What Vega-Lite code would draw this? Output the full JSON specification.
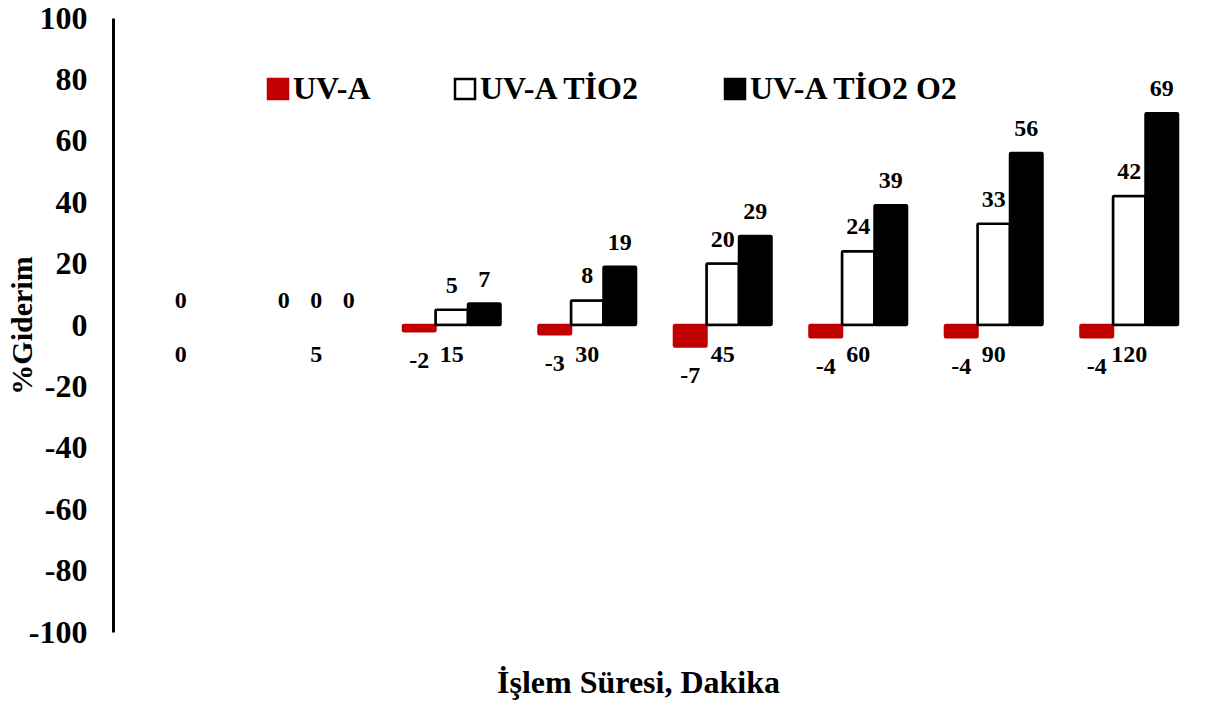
{
  "$schema": "https://vega.github.io/schema/vega-lite/v6.json",
  "width": 1084,
  "height": 614,
  "autosize": {"type": "none"},
  "padding": {"left": 113, "top": 18, "right": 24, "bottom": 70},
  "background": "white",
  "config": {"view": {"stroke": null}, "font": "Liberation Serif"},
  "data": {
    "values": [
      {"t": "0", "s": "UV-A", "v": null},
      {"t": "0", "s": "UV-A TİO2", "v": 0},
      {"t": "0", "s": "UV-A TİO2 O2", "v": null},
      {"t": "5", "s": "UV-A", "v": 0},
      {"t": "5", "s": "UV-A TİO2", "v": 0},
      {"t": "5", "s": "UV-A TİO2 O2", "v": 0},
      {"t": "15", "s": "UV-A", "v": -2},
      {"t": "15", "s": "UV-A TİO2", "v": 5},
      {"t": "15", "s": "UV-A TİO2 O2", "v": 7},
      {"t": "30", "s": "UV-A", "v": -3},
      {"t": "30", "s": "UV-A TİO2", "v": 8},
      {"t": "30", "s": "UV-A TİO2 O2", "v": 19},
      {"t": "45", "s": "UV-A", "v": -7},
      {"t": "45", "s": "UV-A TİO2", "v": 20},
      {"t": "45", "s": "UV-A TİO2 O2", "v": 29},
      {"t": "60", "s": "UV-A", "v": -4},
      {"t": "60", "s": "UV-A TİO2", "v": 24},
      {"t": "60", "s": "UV-A TİO2 O2", "v": 39},
      {"t": "90", "s": "UV-A", "v": -4},
      {"t": "90", "s": "UV-A TİO2", "v": 33},
      {"t": "90", "s": "UV-A TİO2 O2", "v": 56},
      {"t": "120", "s": "UV-A", "v": -4},
      {"t": "120", "s": "UV-A TİO2", "v": 42},
      {"t": "120", "s": "UV-A TİO2 O2", "v": 69}
    ]
  },
  "encoding": {
    "x": {
      "field": "t",
      "type": "nominal",
      "sort": ["0", "5", "15", "30", "45", "60", "90", "120"],
      "scale": {"paddingInner": 0.28, "paddingOuter": 0.14},
      "axis": {
        "title": "İşlem Süresi, Dakika",
        "labels": false,
        "ticks": false,
        "domain": false,
        "grid": false,
        "titleFontSize": 32,
        "titleFontWeight": "bold",
        "titleColor": "black",
        "titleY": 50,
        "titleX": 525,
        "titleBaseline": "middle"
      }
    },
    "y": {
      "field": "v",
      "type": "quantitative",
      "scale": {"domain": [-100, 100], "nice": false, "zero": false},
      "axis": {
        "title": "%Giderim",
        "values": [-100, -80, -60, -40, -20, 0, 20, 40, 60, 80, 100],
        "labelExpr": "'' + datum.value",
        "ticks": false,
        "grid": false,
        "domainWidth": 3,
        "domainColor": "black",
        "labelFontSize": 32,
        "labelFontWeight": "bold",
        "labelColor": "black",
        "labelPadding": 26,
        "titleFontSize": 30,
        "titleFontWeight": "bold",
        "titleColor": "black",
        "titleX": -91,
        "titleY": 307,
        "titleAngle": -90,
        "titleAlign": "center",
        "titleBaseline": "middle"
      }
    }
  },
  "layer": [
    {
      "transform": [{"filter": "datum.v !== 0"}],
      "mark": {"type": "bar", "strokeWidth": 2.5, "cornerRadius": 1},
      "encoding": {
        "xOffset": {
          "field": "s",
          "type": "nominal",
          "sort": ["UV-A", "UV-A TİO2", "UV-A TİO2 O2"],
          "scale": {"domain": ["UV-A", "UV-A TİO2", "UV-A TİO2 O2"], "paddingInner": 0, "paddingOuter": 0}
        },
        "fill": {
          "field": "s",
          "type": "nominal",
          "sort": ["UV-A", "UV-A TİO2", "UV-A TİO2 O2"],
          "scale": {"domain": ["UV-A", "UV-A TİO2", "UV-A TİO2 O2"], "range": ["#C00000", "#FFFFFF", "#000000"]},
          "legend": {
            "orient": "none",
            "legendX": 149,
            "legendY": 55,
            "direction": "horizontal",
            "title": null,
            "labelFontSize": 32,
            "labelFontWeight": "bold",
            "labelColor": "black",
            "labelLimit": 500,
            "symbolType": "square",
            "symbolSize": 400,
            "symbolStrokeWidth": 2.5,
            "columnPadding": 78,
            "labelOffset": -1
          }
        },
        "stroke": {
          "field": "s",
          "type": "nominal",
          "sort": ["UV-A", "UV-A TİO2", "UV-A TİO2 O2"],
          "scale": {"domain": ["UV-A", "UV-A TİO2", "UV-A TİO2 O2"], "range": ["#C00000", "#000000", "#000000"]}
        }
      }
    },
    {
      "mark": {"type": "rule", "strokeWidth": 3, "color": "black"},
      "encoding": {"y": {"datum": 0}}
    },
    {
      "transform": [{"filter": "isValid(datum.v) && datum.v >= 0"}],
      "mark": {"type": "text", "dy": -24, "baseline": "middle", "fontSize": 24, "fontWeight": "bold", "color": "black"},
      "encoding": {
        "xOffset": {"field": "s", "type": "nominal", "sort": ["UV-A", "UV-A TİO2", "UV-A TİO2 O2"]},
        "text": {"field": "v", "type": "nominal"}
      }
    },
    {
      "transform": [{"filter": "isValid(datum.v) && datum.v < 0"}],
      "mark": {"type": "text", "dy": 30, "baseline": "middle", "fontSize": 24, "fontWeight": "bold", "color": "black"},
      "encoding": {
        "xOffset": {"field": "s", "type": "nominal", "sort": ["UV-A", "UV-A TİO2", "UV-A TİO2 O2"]},
        "text": {"field": "v", "type": "nominal"}
      }
    },
    {
      "transform": [{"filter": "datum.s === 'UV-A TİO2'"}],
      "mark": {"type": "text", "dy": 30, "baseline": "middle", "fontSize": 24, "fontWeight": "bold", "color": "black"},
      "encoding": {
        "y": {"datum": 0},
        "text": {"field": "t", "type": "nominal"}
      }
    }
  ]
}
